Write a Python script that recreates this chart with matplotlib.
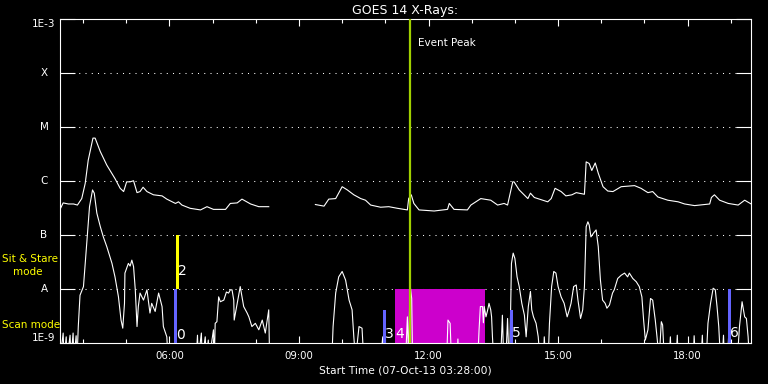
import matplotlib
matplotlib.use("Agg")
import matplotlib.pyplot as plt
import numpy as np
from matplotlib.ticker import FixedLocator, NullLocator

plt.rcParams['font.family'] = ['DejaVu Sans']

# ---------------- data (time = decimal hours UT on 07-Oct-13, flux = log10 W/m^2)
x_start = 3 + 28 / 60.0
x_end = 19 + 28 / 60.0

long_hours = [3.48, 3.54, 3.66, 3.78, 3.87, 3.97, 4.05, 4.12, 4.23, 4.28,
              4.40, 4.55, 4.74, 4.86, 4.94, 5.01, 5.09, 5.17, 5.25, 5.32,
              5.39, 5.48, 5.63, 5.83, 5.94, 6.14, 6.21, 6.29, 6.48, 6.72,
              6.87, 7.02, 7.30, 7.41, 7.57, 7.68, 7.88, 8.07, 8.30, np.nan,
              9.38, 9.58, 9.69, 9.85, 10.00, 10.12, 10.27, 10.43, 10.54, 10.66,
              10.89, 11.08, 11.28, 11.51, 11.54, 11.60, 11.66, 11.78, 12.13, 12.44,
              12.48, 12.59, 12.90, 12.98, 13.21, 13.44, 13.60, 13.75, 13.83, 13.95,
              13.98, 14.10, 14.30, 14.36, 14.45, 14.76, 14.84, 14.93, 15.07, 15.18,
              15.32, 15.42, 15.61, 15.65, 15.72, 15.78, 15.86, 15.93, 16.04, 16.15,
              16.27, 16.46, 16.77, 16.92, 17.08, 17.19, 17.31, 17.54, 17.78, 17.93,
              18.16, 18.51, 18.55, 18.62, 18.74, 18.94, 19.17, 19.32, 19.47]
long_logflux = [-6.50, -6.40, -6.42, -6.42, -6.44, -6.32, -6.04, -5.61, -5.20, -5.20,
                -5.45, -5.70, -5.95, -6.13, -6.19, -6.01, -6.01, -5.99, -6.21, -6.19,
                -6.11, -6.19, -6.25, -6.27, -6.33, -6.41, -6.38, -6.44, -6.50, -6.53,
                -6.47, -6.52, -6.52, -6.41, -6.40, -6.33, -6.42, -6.47, -6.47, np.nan,
                -6.43, -6.46, -6.33, -6.32, -6.10, -6.16, -6.25, -6.32, -6.35, -6.44,
                -6.48, -6.47, -6.50, -6.53, -6.32, -6.25, -6.41, -6.53, -6.55, -6.52,
                -6.41, -6.52, -6.53, -6.44, -6.32, -6.35, -6.44, -6.41, -6.44, -6.01,
                -6.01, -6.16, -6.32, -6.22, -6.30, -6.38, -6.32, -6.13, -6.19, -6.27,
                -6.25, -6.21, -6.24, -5.64, -5.67, -5.80, -5.66, -5.85, -6.10, -6.18,
                -6.19, -6.10, -6.08, -6.13, -6.21, -6.19, -6.29, -6.35, -6.38, -6.42,
                -6.45, -6.42, -6.30, -6.25, -6.35, -6.41, -6.44, -6.35, -6.42]

B = -9.3  # below the plotted range
short_hours = [3.47, 3.54, 3.56, 3.61, 3.63, 3.70, 3.72, 3.77, 3.79, 3.84,
               3.86, 3.89, 3.93, 4.01, 4.05, 4.09, 4.15, 4.22, 4.26, 4.32,
               4.40, 4.47, 4.55, 4.67, 4.74, 4.82, 4.88, 4.92, 4.96, 4.97,
               5.01, 5.05, 5.09, 5.13, 5.17, 5.21, 5.25, 5.28, 5.32, 5.40,
               5.48, 5.55, 5.59, 5.67, 5.75, 5.83, 5.86, 5.94, 5.97, 6.62,
               6.65, 6.67, 6.74, 6.76, 6.83, 6.85, 6.90, 6.92, 7.02, 7.04,
               7.06, 7.10, 7.14, 7.18, 7.26, 7.32, 7.37, 7.41, 7.45, 7.49,
               7.50, 7.57, 7.64, 7.72, 7.80, 7.84, 7.91, 7.99, 8.07, 8.15,
               8.22, 8.30, 8.32, 9.76, 9.79, 9.85, 9.92, 10.00, 10.08, 10.16,
               10.23, 10.27, 10.31, 10.39, 10.46, 10.50, 10.89, 10.94, 10.99, 11.47,
               11.51, 11.54, 11.57, 11.61, 11.63, 12.42, 12.45, 12.50, 12.53, 12.66,
               12.68, 12.70, 13.14, 13.17, 13.20, 13.25, 13.27, 13.29, 13.33, 13.37,
               13.40, 13.44, 13.46, 13.48, 13.51, 13.67, 13.71, 13.74, 13.79, 13.83,
               13.86, 13.88, 13.92, 13.96, 14.00, 14.05, 14.10, 14.16, 14.22, 14.26,
               14.31, 14.36, 14.39, 14.43, 14.49, 14.54, 14.58, 14.66, 14.68, 14.71,
               14.77, 14.80, 14.85, 14.90, 14.95, 15.00, 15.07, 15.14, 15.21, 15.26,
               15.30, 15.36, 15.42, 15.46, 15.52, 15.57, 15.61, 15.65, 15.69, 15.72,
               15.76, 15.82, 15.88, 15.93, 15.98, 16.03, 16.09, 16.13, 16.19, 16.26,
               16.30, 16.38, 16.46, 16.54, 16.61, 16.65, 16.73, 16.81, 16.88, 16.94,
               16.98, 17.02, 17.08, 17.14, 17.19, 17.25, 17.29, 17.34, 17.39, 17.42,
               17.46, 17.57, 17.60, 17.62, 17.73, 17.76, 17.78, 18.13, 18.15, 18.18,
               18.31, 18.34, 18.36, 18.43, 18.47, 18.53, 18.59, 18.64, 18.68, 18.72,
               18.76, 18.80, 18.83, 18.85, 18.92, 18.95, 18.99, 19.15, 19.20, 19.26,
               19.32, 19.36, 19.40, 19.43, 19.50]
short_logflux = [B, -8.81, B, -8.88, B, -8.85, B, -8.81, B, -8.86,
                 B, -8.69, -8.11, -7.95, -7.52, -7.09, -6.47, -6.16, -6.22, -6.59,
                 -6.84, -7.03, -7.21, -7.52, -7.77, -8.14, -8.57, -8.72, -8.26, -7.70,
                 -7.61, -7.52, -7.57, -7.46, -7.58, -8.01, -8.69, -8.32, -8.07, -8.20,
                 -8.01, -8.44, -8.26, -8.41, -8.07, -8.32, -8.69, -8.88, B, B,
                 -8.85, B, -8.81, B, -8.88, B, -8.94, B, -8.75, B,
                 -8.63, -8.60, -8.14, -8.23, -8.20, -8.05, -8.07, -8.01, -8.01, -8.20,
                 -8.57, -8.26, -7.95, -8.32, -8.44, -8.51, -8.69, -8.63, -8.75, -8.57,
                 -8.81, -8.38, B, B, -8.69, -8.07, -7.77, -7.67, -7.83, -8.20,
                 -8.38, -8.88, B, -8.69, -8.72, B, B, -8.88, B, B,
                 -8.51, B, -7.90, -8.17, B, B, -8.57, -8.63, B, B,
                 -8.92, B, B, -8.75, -8.32, -8.32, -8.62, -8.32, -8.51, -8.38,
                 -8.26, -8.38, -8.51, -8.88, B, B, -8.48, B, B, -8.54,
                 B, B, -7.52, -7.33, -7.43, -7.77, -7.95, -8.26, -8.48, -8.88,
                 -8.32, -8.04, -8.38, -8.51, -8.63, -8.88, B, B, -8.88, B,
                 B, -8.63, -7.95, -7.67, -7.70, -7.95, -8.14, -8.26, -8.51, -8.38,
                 -8.26, -7.95, -7.92, -8.20, -8.54, -8.38, -7.95, -6.84, -6.75, -6.81,
                 -7.03, -6.96, -6.90, -7.21, -7.83, -8.20, -8.26, -8.35, -8.29, -8.07,
                 -8.01, -7.80, -7.74, -7.70, -7.77, -7.70, -7.80, -7.86, -7.95, -8.14,
                 -8.57, -8.94, -8.75, -8.17, -8.20, -8.57, -8.88, B, -8.60, -8.66,
                 B, B, -8.88, B, B, -8.85, B, B, -8.86, B,
                 B, -8.85, B, B, -8.63, -8.26, -7.98, -8.01, -8.32, -8.69,
                 B, B, -8.85, B, B, -8.85, B, B, -8.69, -8.23,
                 -8.51, -8.54, -8.88, B, B]

time_ticks = [6, 9, 12, 15, 18]
time_labels = ['06:00', '09:00', '12:00', '15:00', '18:00']
hour_ticks = list(range(4, 20))
class_levels = [1e-9, 1e-8, 1e-7, 1e-6, 1e-5, 1e-4, 1e-3]
class_labels = ['1E-9', 'A', 'B', 'C', 'M', 'X', '1E-3']

event_peak_hour = 11.56
sit_stare_start, sit_stare_end = 11.22, 13.30
sit_stare_top = 1e-8

scan_hours = [6.135, 10.98, 13.92, 18.97]
scan_tops = [1e-8, 10 ** -8.38, 10 ** -8.38, 1e-8]
stare_bar_hour = 6.19
stare_bar_range = (1e-8, 1e-7)

marker_labels = ['0', '2', '3', '4', '5', '6']
marker_label_hours = [6.16, 6.20, 10.99, 11.24, 13.93, 18.98]
marker_label_flux = [10 ** -8.97, 10 ** -7.79, 10 ** -8.95, 10 ** -8.95, 10 ** -8.93, 10 ** -8.93]

# ---------------- figure
W, H = 768, 384
fig = plt.figure(figsize=(W / 100, H / 100), dpi=100, facecolor='black')
ax = fig.add_axes([60 / W, (H - 343.3) / H, 691 / W, 324 / H], facecolor='black')

ax.set_yscale('log')
ax.set_xlim(x_start, x_end)
ax.set_ylim(1e-9, 1e-3)

# dotted class lines
for lev in class_levels[1:-1]:
    ax.axhline(lev, color='white', lw=0.75, ls=(0, (1, 5)), zorder=1)

# sit & stare window
ax.bar(sit_stare_start, sit_stare_top - 1e-9, bottom=1e-9,
       width=sit_stare_end - sit_stare_start, align='edge',
       color='#cc00cc', zorder=2, linewidth=0)

# curves
ax.plot(long_hours, 10 ** np.array(long_logflux), color='white', lw=0.8, zorder=3)
ax.plot(short_hours, 10 ** np.array(short_logflux), color='white', lw=0.8, zorder=3)

# scan-mode bars
for h, top in zip(scan_hours, scan_tops):
    ax.bar(h, top - 1e-9, bottom=1e-9, width=0.06, color='#6464ff',
           zorder=4, linewidth=0)
ax.bar(stare_bar_hour, stare_bar_range[1] - stare_bar_range[0],
       bottom=stare_bar_range[0], width=0.07, color='#ffff00', zorder=4, linewidth=0)

for lab, h, f in zip(marker_labels, marker_label_hours, marker_label_flux):
    ax.text(h, f, lab, color='white', fontsize=10, ha='left', va='bottom', zorder=6)

# event peak
ax.axvline(event_peak_hour, color='#a0d000', lw=1.6, zorder=5)
ax.text(event_peak_hour + 0.2, 10 ** -3.43, 'Event Peak', color='white',
        fontsize=7.5, ha='left', va='center')

# axes styling
for s in ax.spines.values():
    s.set_color('white')
    s.set_linewidth(0.8)

ax.xaxis.set_major_locator(FixedLocator(time_ticks))
ax.xaxis.set_minor_locator(FixedLocator(hour_ticks))
ax.set_xticklabels(time_labels)
ax.tick_params(axis='x', which='major', direction='in', length=4.8, width=0.8,
               top=True, bottom=True, colors='white', labelsize=7.3, pad=5.5)
ax.tick_params(axis='x', which='minor', direction='in', length=2.9, width=0.8,
               top=True, bottom=True, colors='white')

ax.yaxis.set_major_locator(FixedLocator(class_levels))
ax.yaxis.set_minor_locator(NullLocator())
ax.set_yticklabels(class_labels)
ax.tick_params(axis='y', which='major', direction='in', length=10.8, width=0.8,
               left=True, right=True, colors='white', labelsize=7.5, pad=11.5)
ylabs = ax.get_yticklabels()
for i, t in enumerate(ylabs):
    t.set_horizontalalignment('center')
    if i == 0:
        t.set_verticalalignment('bottom')
    elif i == len(ylabs) - 1:
        t.set_verticalalignment('top')
    else:
        t.set_verticalalignment('center')

ax.set_xlabel('Start Time (07-Oct-13 03:28:00)', color='white', fontsize=7.7, labelpad=3)
ax.set_title('GOES 14 X-Rays:', color='white', fontsize=9, pad=4)

# mode labels on the left
fig.text(2 / W, 1 - 262 / H, 'Sit & Stare', color='#ffff00', fontsize=7.5,
         ha='left', va='baseline')
fig.text(13 / W, 1 - 275 / H, 'mode', color='#ffff00', fontsize=7.5,
         ha='left', va='baseline')
fig.text(2 / W, 1 - 328 / H, 'Scan mode', color='#ffff00', fontsize=7.5,
         ha='left', va='baseline')

fig.savefig('out.png', dpi=100, facecolor='black')
